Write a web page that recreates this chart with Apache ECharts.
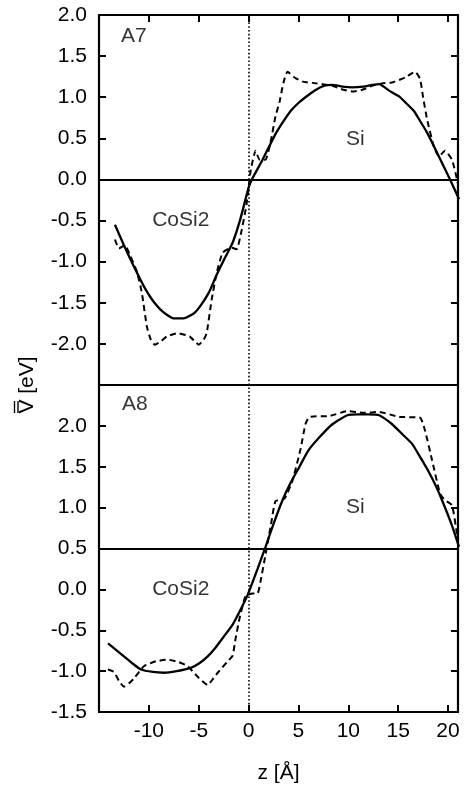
<!DOCTYPE html>
<html>
<head>
<meta charset="utf-8">
<script src="https://cdn.jsdelivr.net/npm/echarts@6/dist/echarts.min.js"></script>
<style>
html,body{margin:0;padding:0;background:#fff;}
#chart{width:464px;height:787px;}
</style>
</head>
<body>
<div id="chart"></div>
<script>
// ---- data ----
const xTicks = [-10, -5, 0, 5, 10, 15, 20];
const a7YTicks = [2.0, 1.5, 1.0, 0.5, 0.0, -0.5, -1.0, -1.5, -2.0];
const a8YTicks = [2.0, 1.5, 1.0, 0.5, 0.0, -0.5, -1.0, -1.5];

const a7Solid = [[-13.4,-0.55],[-12.5,-0.80],[-11.5,-1.06],[-10.5,-1.30],[-9.5,-1.49],[-8.5,-1.62],[-7.5,-1.69],[-6.5,-1.69],[-5.5,-1.63],[-4.9,-1.55],[-4.0,-1.38],[-3.2,-1.16],[-2.4,-0.96],[-1.6,-0.77],[-0.8,-0.47],[0.0,-0.10],[0.33,0.0],[1.4,0.24],[2.6,0.53],[3.4,0.69],[4.2,0.83],[5.0,0.93],[5.7,1.0],[6.6,1.08],[7.6,1.14],[8.4,1.15],[9.4,1.13],[10.4,1.12],[11.5,1.13],[12.4,1.15],[13.1,1.16],[14.1,1.08],[15.1,1.01],[15.7,0.94],[16.6,0.83],[17.1,0.73],[17.8,0.59],[18.4,0.45],[19.4,0.20],[20.2,0.0],[21.1,-0.24]];
const a7Dashed = [[-13.4,-0.73],[-13.0,-0.84],[-12.4,-0.80],[-11.9,-0.92],[-11.2,-1.12],[-10.7,-1.38],[-10.2,-1.79],[-9.8,-1.95],[-9.4,-2.01],[-8.8,-1.97],[-8.2,-1.91],[-7.1,-1.87],[-5.9,-1.91],[-5.4,-1.97],[-5.0,-2.01],[-4.5,-1.95],[-4.2,-1.87],[-3.7,-1.46],[-3.2,-1.14],[-2.6,-0.89],[-1.7,-0.83],[-1.2,-0.85],[-0.7,-0.62],[-0.2,-0.30],[0.2,0.10],[0.7,0.35],[1.1,0.24],[1.7,0.24],[2.2,0.45],[2.7,0.77],[3.1,0.94],[3.5,1.18],[3.9,1.31],[4.6,1.24],[5.4,1.19],[6.7,1.17],[8.4,1.14],[9.5,1.09],[10.4,1.07],[11.4,1.09],[12.4,1.14],[13.5,1.17],[14.4,1.18],[15.7,1.24],[16.7,1.31],[17.2,1.22],[17.5,1.0],[17.9,0.73],[18.6,0.39],[19.1,0.28],[19.7,0.35],[20.4,0.24],[20.9,0.0],[21.4,-0.28]];
const a8Solid = [[-14.1,-0.66],[-13.3,-0.74],[-12.5,-0.82],[-11.6,-0.91],[-10.8,-0.98],[-9.6,-1.01],[-8.5,-1.02],[-7.2,-1.0],[-5.8,-0.96],[-4.9,-0.90],[-4.1,-0.82],[-3.3,-0.71],[-2.5,-0.58],[-1.6,-0.43],[-0.9,-0.27],[-0.1,-0.07],[0.9,0.25],[1.7,0.52],[2.5,0.80],[3.4,1.09],[4.2,1.30],[5.1,1.50],[6.0,1.70],[7.1,1.86],[8.4,2.02],[9.9,2.13],[11.0,2.14],[12.0,2.14],[13.1,2.13],[14.4,2.02],[15.4,1.90],[16.4,1.78],[17.2,1.62],[18.1,1.43],[18.8,1.26],[19.4,1.09],[20.4,0.78],[21.1,0.52]];
const a8Dashed = [[-14.1,-0.98],[-13.5,-1.01],[-13.0,-1.12],[-12.5,-1.19],[-12.0,-1.15],[-11.5,-1.09],[-10.5,-0.94],[-9.3,-0.88],[-8.1,-0.86],[-7.0,-0.89],[-6.1,-0.94],[-5.1,-1.07],[-4.1,-1.17],[-3.6,-1.10],[-3.1,-1.02],[-2.1,-0.88],[-1.6,-0.81],[-1.3,-0.60],[-0.9,-0.35],[-0.3,-0.08],[0.4,-0.05],[0.9,-0.05],[1.2,0.10],[1.6,0.36],[2.2,0.76],[2.7,1.08],[3.6,1.11],[4.4,1.33],[5.2,1.71],[5.7,2.02],[6.1,2.11],[8.1,2.12],[9.9,2.18],[11.5,2.16],[13.1,2.17],[15.1,2.11],[17.2,2.10],[17.7,1.94],[18.4,1.58],[19.2,1.17],[19.7,1.09],[20.4,1.03],[20.9,0.68],[21.4,0.40],[21.6,0.20]];

const a7Labels = [[-11.5, 1.74, 'A7'], [-6.8, -0.5, 'CoSi2'], [10.7, 0.49, 'Si']];
const a8Labels = [[-11.4, 2.26, 'A8'], [-6.8, 0.0, 'CoSi2'], [10.7, 1.0, 'Si']];
const a7Zero = 0.0;
const a8Zero = 0.5;
const interfaceX = 0;

// ---- chart ----
const FONT = 'Liberation Sans';
const FS = 21;
const chart = echarts.init(document.getElementById('chart'), null, {renderer: 'canvas'});

function fmt1(v){ return (Math.abs(v) < 1e-9 ? 0 : v).toFixed(1); }

function xAx(grid, pos, ticks, labels, name) {
  return {
    type: 'value', gridIndex: grid, position: pos, min: -15, max: 21, interval: 5,
    axisLine: {show: true, onZero: false, lineStyle: {color: '#000', width: 2.2}},
    axisTick: {show: ticks, inside: true, length: 7, lineStyle: {color: '#000', width: 2},
      customValues: xTicks},
    axisLabel: {show: labels, color: '#000', fontFamily: FONT, fontSize: FS, margin: 9,
      customValues: xTicks, formatter: v => String(v)},
    splitLine: {show: false},
    name: name || '', nameLocation: 'middle', nameGap: 51,
    nameTextStyle: {color: '#000', fontFamily: FONT, fontSize: FS}
  };
}
function yAx(grid, pos, min, max, ticks, labels) {
  return {
    type: 'value', gridIndex: grid, position: pos, min: min, max: max, interval: 0.5,
    axisLine: {show: true, onZero: false, lineStyle: {color: '#000', width: 2.2}},
    axisTick: {show: true, inside: true, length: 7, lineStyle: {color: '#000', width: 2},
      customValues: ticks},
    axisLabel: {show: labels, color: '#000', fontFamily: FONT, fontSize: FS, margin: 12,
      customValues: ticks, formatter: fmt1},
    splitLine: {show: false}
  };
}

const dotted = {color: '#000', width: 1.6, type: [1.6, 2.2]};
function lineSeries(data, xi, yi, dashed, extraMark) {
  return {
    type: 'line', xAxisIndex: xi, yAxisIndex: yi, data: data, showSymbol: false,
    symbol: 'none', smooth: 0.15, clip: !dashed, silent: true,
    lineStyle: {color: '#000', width: dashed ? 2 : 2.3, type: dashed ? [6, 4] : 'solid'},
    markLine: extraMark || undefined
  };
}
function refLines(yv) {
  return {
    silent: true, symbol: 'none', label: {show: false}, animation: false,
    data: [
      {yAxis: yv, lineStyle: {color: '#000', width: 2.2, type: 'solid'}},
      {xAxis: interfaceX, lineStyle: dotted}
    ]
  };
}
function labelSeries(data, xi, yi) {
  return {
    type: 'scatter', xAxisIndex: xi, yAxisIndex: yi, symbolSize: 0, silent: true,
    data: data,
    label: {show: true, position: 'inside', formatter: p => p.data[2], color: '#000',
      fontFamily: FONT, fontSize: FS}
  };
}

chart.setOption({
  animation: false,
  backgroundColor: '#fff',
  grid: [
    {left: 99, right: 6, top: 15, height: 370},
    {left: 99, right: 6, top: 385, height: 327}
  ],
  xAxis: [
    xAx(0, 'bottom', false, false),
    xAx(0, 'top', true, false),
    xAx(1, 'bottom', true, true, 'z [\u00C5]'),
    xAx(1, 'top', false, false)
  ],
  yAxis: [
    yAx(0, 'left', -2.5, 2.0, a7YTicks, true),
    yAx(0, 'right', -2.5, 2.0, a7YTicks, false),
    yAx(1, 'left', -1.5, 2.5, a8YTicks, true),
    yAx(1, 'right', -1.5, 2.5, a8YTicks, false)
  ],
  series: [
    lineSeries(a7Solid, 0, 0, false, refLines(a7Zero)),
    lineSeries(a7Dashed, 0, 0, true),
    lineSeries(a8Solid, 2, 2, false, refLines(a8Zero)),
    lineSeries(a8Dashed, 2, 2, true),
    labelSeries(a7Labels, 0, 0),
    labelSeries(a8Labels, 2, 2)
  ],
  graphic: [{
    type: 'group', x: 27, y: 385, rotation: Math.PI / 2,
    children: [
      {type: 'text', x: 0, y: 0, style: {text: 'V [eV]', align: 'center', verticalAlign: 'middle',
        fill: '#000', font: '21px "Liberation Sans"'}},
      {type: 'line', shape: {x1: -28, y1: -9, x2: -16, y2: -9}, style: {stroke: '#000', lineWidth: 1.4}},
      {type: 'line', shape: {x1: -28, y1: -12.5, x2: -16, y2: -12.5}, style: {stroke: '#000', lineWidth: 1.4}}
    ]
  }]
});
</script>
</body>
</html>
